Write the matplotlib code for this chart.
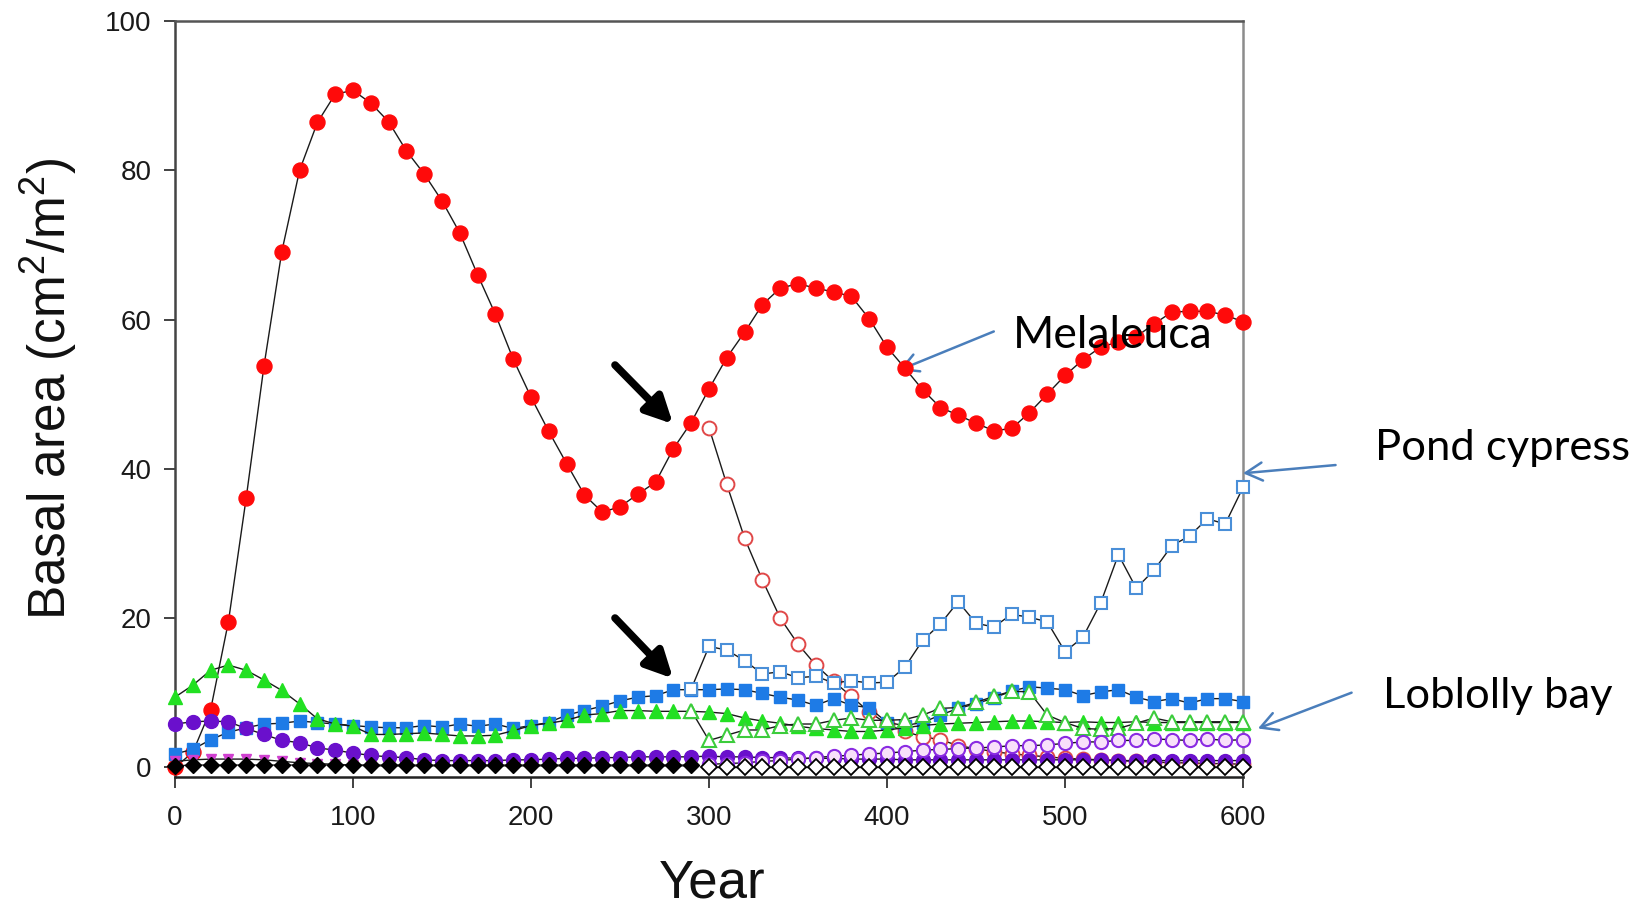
import matplotlib
matplotlib.use("Agg")
import matplotlib.pyplot as plt
import numpy as np

plt.rcParams['font.family'] = ['Liberation Sans', 'DejaVu Sans']
plt.rcParams['mathtext.fontset'] = 'custom'
plt.rcParams['mathtext.rm'] = 'Liberation Sans'
plt.rcParams['mathtext.it'] = 'Liberation Sans:italic'

# ---- simulated basal area by year ----
years = np.arange(0, 610, 10)          # full run
years_early = np.arange(0, 300, 10)    # before treatment
years_late = np.arange(300, 610, 10)   # after treatment
years_switch = np.arange(290, 610, 10) # treatment runs branching at year 290

melaleuca_ctrl = [0.0, 2.0, 7.7, 19.5, 36.1, 53.8, 69.1, 80.0, 86.4, 90.2,
                  90.7, 89.0, 86.5, 82.6, 79.5, 75.9, 71.6, 66.0, 60.7, 54.7,
                  49.6, 45.0, 40.7, 36.5, 34.2, 34.9, 36.6, 38.2, 42.7, 46.2,
                  50.7, 54.9, 58.3, 62.0, 64.2, 64.8, 64.2, 63.7, 63.1, 60.1,
                  56.3, 53.5, 50.6, 48.2, 47.2, 46.1, 45.1, 45.4, 47.5, 50.0,
                  52.5, 54.6, 56.3, 57.0, 57.7, 59.4, 61.0, 61.1, 61.1, 60.6,
                  59.7]
melaleuca_trt = [45.5, 37.9, 30.7, 25.1, 20.0, 16.5, 13.7, 11.5, 9.5, 7.4,
                 5.8, 4.8, 4.1, 3.7, 2.9, 2.5, 2.1, 1.8, 1.6, 1.4,
                 1.2, 1.1, 1.0, 0.9, 0.8, 0.7, 0.6, 0.6, 0.5, 0.5, 0.4]

cypress_ctrl = [1.8, 2.4, 3.7, 4.7, 5.3, 5.8, 5.9, 6.2, 6.0, 5.8,
                5.6, 5.4, 5.3, 5.3, 5.6, 5.4, 5.8, 5.5, 5.8, 5.2,
                5.6, 6.0, 7.0, 7.6, 8.2, 8.9, 9.4, 9.6, 10.4, 10.4,
                10.4, 10.5, 10.4, 9.9, 9.4, 9.0, 8.3, 9.2, 8.3, 8.0,
                6.0, 5.6, 6.0, 7.0, 7.9, 8.5, 9.3, 10.2, 10.8, 10.6,
                10.4, 9.6, 10.1, 10.4, 9.4, 8.8, 9.2, 8.6, 9.2, 9.2,
                8.8]
cypress_trt = [10.5, 16.2, 15.7, 14.3, 12.5, 12.8, 12.0, 12.2, 11.3, 11.6,
               11.3, 11.4, 13.4, 17.0, 19.2, 22.2, 19.3, 18.8, 20.5, 20.1,
               19.5, 15.5, 17.4, 22.0, 28.5, 24.0, 26.4, 29.7, 31.0, 33.3,
               32.6, 37.5]

loblolly_ctrl = [9.4, 11.0, 13.0, 13.7, 13.0, 11.7, 10.3, 8.5, 6.5, 5.8,
                 5.5, 4.4, 4.4, 4.5, 4.6, 4.4, 4.2, 4.2, 4.3, 4.9,
                 5.6, 5.9, 6.3, 7.0, 7.2, 7.6, 7.6, 7.5, 7.5, 7.5,
                 7.4, 7.2, 6.6, 6.2, 5.9, 5.5, 5.2, 5.0, 4.8, 4.8,
                 5.0, 5.3, 5.6, 5.8, 5.9, 6.0, 6.1, 6.2, 6.2, 6.1,
                 6.0, 6.1, 6.0, 6.0, 6.1, 6.0, 6.0, 6.0, 6.0, 6.0,
                 6.0]
loblolly_trt = [7.6, 3.6, 4.3, 5.0, 5.0, 5.6, 5.8, 5.8, 6.3, 6.6,
                6.3, 6.3, 6.4, 7.0, 7.9, 8.0, 8.7, 9.5, 10.2, 10.1,
                7.0, 6.0, 5.2, 5.1, 5.2, 5.9, 6.6, 6.1, 6.1, 6.1,
                6.1, 6.1]

other_ctrl = [5.8, 6.1, 6.2, 6.1, 5.2, 4.4, 3.6, 3.3, 2.6, 2.3,
              1.9, 1.6, 1.4, 1.3, 1.0, 0.9, 0.9, 0.9, 0.9, 1.0,
              1.0, 1.1, 1.2, 1.2, 1.3, 1.3, 1.4, 1.4, 1.4, 1.4,
              1.5, 1.4, 1.4, 1.3, 1.3, 1.2, 1.2, 1.2, 1.1, 1.1,
              1.1, 1.0, 1.0, 1.0, 1.0, 1.0, 1.0, 1.0, 1.0, 1.0,
              1.0, 1.0, 1.0, 0.9, 0.9, 0.9, 0.9, 0.9, 0.9, 0.9,
              0.9]
other_trt = [0.4, 0.5, 0.6, 0.8, 0.9, 1.1, 1.3, 1.5, 1.6, 1.8,
             1.9, 2.1, 2.3, 2.4, 2.5, 2.6, 2.7, 2.9, 2.9, 3.0,
             3.2, 3.4, 3.4, 3.6, 3.6, 3.8, 3.7, 3.6, 3.8, 3.6, 3.7]

minor_early = [0.8, 1.0, 1.1, 1.1, 1.1, 1.0, 0.8, 0.6, 0.5, 0.4,
               0.3, 0.2, 0.2, 0.2, 0.2, 0.2, 0.2, 0.2, 0.2, 0.2,
               0.2, 0.2, 0.2, 0.2, 0.2, 0.2, 0.2, 0.2, 0.2, 0.2]
rare_early = [0.2, 0.3, 0.3, 0.3, 0.3, 0.3, 0.3, 0.3, 0.3, 0.3,
              0.3, 0.3, 0.3, 0.3, 0.3, 0.3, 0.3, 0.3, 0.3, 0.3,
              0.3, 0.3, 0.3, 0.3, 0.3, 0.3, 0.3, 0.3, 0.3, 0.3]
rare_late = [0.05] * 31

x_ticks = [0, 100, 200, 300, 400, 500, 600]
y_ticks = [0, 20, 40, 60, 80, 100]

# ---- figure ----
W, H = 1648, 907
fig = plt.figure(figsize=(W / 100, H / 100), dpi=100)
fig.patch.set_facecolor('white')
ax = fig.add_axes([175 / W, 1 - 777 / H, (1243 - 175) / W, (777 - 21) / H])
ax.set_xlim(0, 600)
ax.set_ylim(-1.3, 100)

LINE = dict(color='#1a1a1a', lw=1.0, clip_on=False)


def series(x, y, marker, ms, face, edge, mew=1.0, z=2):
    ax.plot(x, y, '-', zorder=z, **LINE)
    ax.plot(x, y, linestyle='none', marker=marker, ms=ms, mfc=face, mec=edge,
            mew=mew, zorder=z + 0.5, clip_on=False)


series(years_late, melaleuca_trt, 'o', 10.0, 'white', '#e04848', 1.4, z=2)
series(years, melaleuca_ctrl, 'o', 10.8, '#ff0a0a', '#ff0a0a', z=3)
series(years, cypress_ctrl, 's', 9.0, '#1e7be6', '#1e7be6', z=4)
series(years, loblolly_ctrl, '^', 10.0, '#22e022', '#22e022', z=5)
series(years_switch, cypress_trt, 's', 9.3, 'white', '#4a8fd8', 1.5, z=6)
series(years_switch, loblolly_trt, '^', 10.0, 'white', '#3ccc3c', 1.5, z=7)
series(years, other_ctrl, 'o', 10.0, '#6a10cc', '#6a10cc', z=8)
series(years_late, other_trt, 'o', 9.5, '#f8e0fa', '#8a2be2', 1.5, z=9)
series(years_early, minor_early, 'v', 7.5, '#d040d0', '#d040d0', z=10)
series(years_early, rare_early, 'D', 7.8, 'black', 'black', z=11)
series(years_late, rare_late, 'D', 7.8, 'white', 'black', 1.3, z=11)

# ---- axes styling ----
ax.set_xticks(x_ticks)
ax.set_yticks(y_ticks)
ax.tick_params(direction='out', length=8, width=1.3, colors='#333333',
               labelsize=20, labelcolor='#1a1a1a')
ax.tick_params(axis='x', pad=12)
ax.tick_params(axis='y', pad=9)
for side, col in (('left', '#444444'), ('bottom', '#222222'),
                  ('top', '#555555'), ('right', '#8c8c8c')):
    ax.spines[side].set_color(col)
    ax.spines[side].set_linewidth(1.8)

fig.text(49 / W, 1 - 389 / H, r'Basal area (cm$^2$/m$^2$)', rotation=90,
         fontsize=37, ha='center', va='center', color='#111111')
fig.text(712 / W, 1 - 898 / H, 'Year', fontsize=38, ha='center',
         va='baseline', color='#111111')

# ---- callouts ----
BLK = dict(arrowstyle='-|>,head_length=1.6,head_width=0.8', lw=5.5,
           color='black', shrinkA=0, shrinkB=0)
ax.annotate('', xy=(279.8, 46.0), xytext=(247.2, 53.9), arrowprops=BLK,
            annotation_clip=False)
ax.annotate('', xy=(279.8, 11.9), xytext=(247.2, 20.0), arrowprops=BLK,
            annotation_clip=False)

BLUE = dict(arrowstyle='->,head_length=1.2,head_width=0.65', lw=1.8,
            color='#4a7ebb', shrinkA=0, shrinkB=0)
ax.annotate('', xy=(406.7, 53.2), xytext=(460.0, 58.4), arrowprops=BLUE,
            annotation_clip=False)
ax.annotate('', xy=(600.0, 39.4), xytext=(652.0, 40.5), arrowprops=BLUE,
            annotation_clip=False)
ax.annotate('', xy=(608.4, 5.2), xytext=(661.0, 10.0), arrowprops=BLUE,
            annotation_clip=False)

LBL = dict(family='Lato', va='baseline', ha='left', color='black')
fig.text(1013 / W, 1 - 348 / H, 'Melaleuca', fontsize=32, **LBL)
fig.text(1375 / W, 1 - 460 / H, 'Pond cypress', fontsize=31.3, **LBL)
fig.text(1383 / W, 1 - 708 / H, 'Loblolly bay', fontsize=31.3, **LBL)

fig.savefig('out.png', dpi=100, facecolor='white')
